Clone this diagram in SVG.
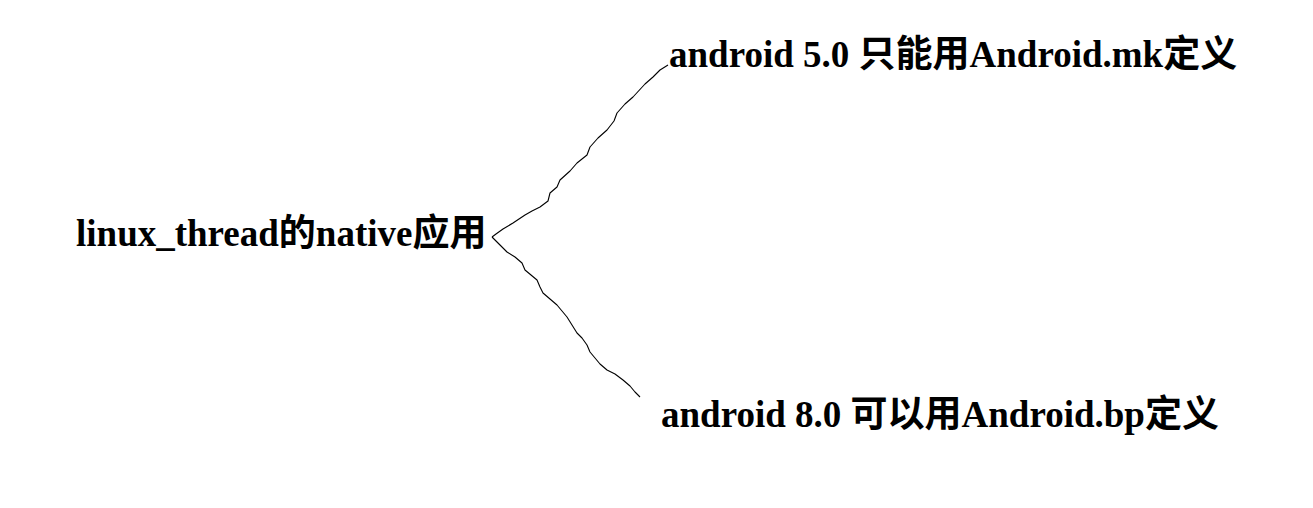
<svg xmlns="http://www.w3.org/2000/svg" width="1313" height="508" viewBox="0 0 1313 508">
<style>
.t{font-family:"Liberation Serif","Noto Sans CJK SC",serif;font-weight:bold;font-size:37px;fill:#000}
.c{fill:none;stroke:#000;stroke-width:1.1;stroke-linejoin:round}
</style>
<rect width="1313" height="508" fill="#fff"/>
<g id="connectors">
<path class="c" d="M668,65 L660,70 L653,77 L645,84 L633,97 L625,104 L617,113 L614,121 L607,130 L598,138 L590,147 L587,155 L577,163 L570,171 L560,180 L557,187 L550,193 L548,201 L540,207 L532,211 L525,215 L513,223 L503,229 L496,234 L492,237"/>
<path class="c" d="M492,237 L500,245 L507,252 L515,257 L522,263 L525,270 L531,275 L537,280 L540,287 L543,293 L550,299 L557,305 L562,311 L567,317 L572,325 L577,333 L582,338 L587,345 L590,352 L595,358 L600,364 L607,370 L615,374 L623,380 L630,386 L635,392 L640,397"/>
</g>
<g id="root"><text class="t" x="76" y="246">linux_thread的native应用</text></g>
<g id="n1"><text class="t" x="669" y="67">android 5.0 只能用Android.mk定义</text></g>
<g id="n2"><text class="t" x="661" y="427">android 8.0 可以用Android.bp定义</text></g>
</svg>
